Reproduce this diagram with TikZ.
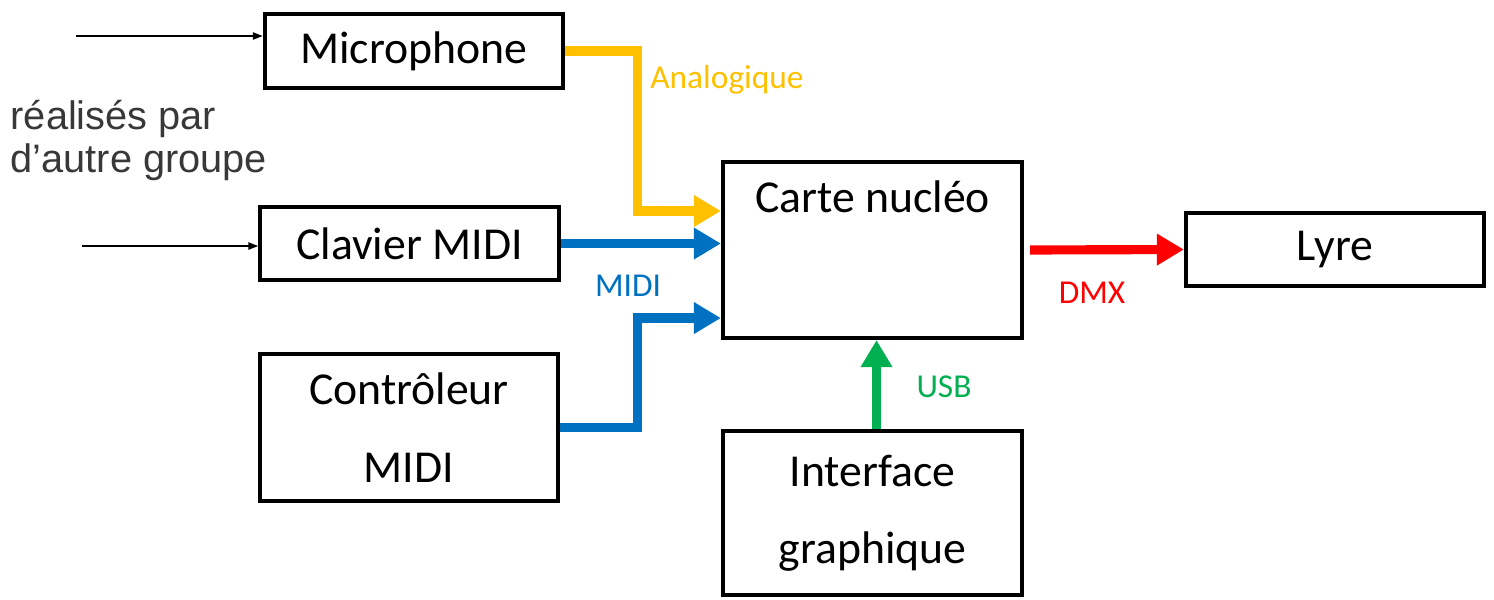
\documentclass[tikz,border=0pt]{standalone}
\usepackage{fontspec}
\setmainfont{Carlito}
\newfontfamily\notefont{Liberation Sans}
\usetikzlibrary{arrows.meta,calc}
\definecolor{analog}{HTML}{FFC000}
\definecolor{midi}{HTML}{0070C0}
\definecolor{dmx}{HTML}{FF0000}
\definecolor{usb}{HTML}{00B050}
\tikzset{
	box/.style={draw, line width=1.15pt, minimum width=2.98cm, align=center,
			font=\fontsize{13}{22}\selectfont},
	bus/.style={line width=2.6pt, -{Triangle[length=0.27cm,width=0.3cm]}},
	busname/.style={font=\fontsize{9.5}{11}\selectfont},
	ext/.style={line width=0.6pt, -{Triangle[length=0.1cm,width=0.07cm]}}
}

\begin{document}
\begin{tikzpicture}[x=0.01cm, y=-0.01cm]
	\useasboundingbox (0,0) rectangle (1494,599);

	% Define the blocks
	\node[box, minimum height=0.74cm] (mic) at (414,51) {Microphone};
	\node[box, minimum height=0.73cm] (clav) at (409.5,243.5) {Clavier MIDI};
	\node[box, minimum height=1.47cm] (ctrl) at (409,427.5) {Contrôleur\\MIDI};
	\node[box, minimum width=2.99cm, minimum height=1.76cm,
		label={[anchor=north, inner sep=0, yshift=-0.2cm, font=\fontsize{13}{15}\selectfont]north:Carte nucléo}]
		(carte) at (872.5,250) {};
	\node[box, minimum height=0.73cm] (lyre) at (1335,249.5) {Lyre};
	\node[box, minimum width=2.99cm, minimum height=1.64cm] (iface) at (872.5,513) {Interface\\graphique};

	% Inputs from the other group
	\coordinate (micin) at (76,36);
	\coordinate (clavin) at (82,246);
	\draw[ext] (micin) -- (micin -| mic.west);
	\draw[ext] (clavin) -- (clavin -| clav.west);
	\node[font=\notefont\fontsize{11.3}{12}\selectfont, text=black!78, align=left,
		anchor=west, inner sep=0] (note) at (10,140.5) {réalisés par\\d’autre groupe};

	% Draw the links
	\draw[bus, analog] (mic.east) -- ++(72,0) |- ([yshift=0.39cm]carte.west);
	\draw[bus, midi] (clav.east) -- (clav.east -| carte.west);
	\draw[bus, midi] (ctrl.east) -- ++(77,0) |- ([yshift=-0.68cm]carte.west);
	\draw[bus, dmx, shorten <=1.7pt] (carte.east) -- (lyre.west);
	\draw[bus, usb] ([xshift=0.04cm]iface.north) -- ([xshift=0.04cm]carte.south);

	% Label the links
	\node[busname, text=analog] (analogname) at (727,80) {Analogique};
	\node[busname, text=midi] (midiname) at (628,285.5) {MIDI};
	\node[busname, text=dmx] (dmxname) at (1092,293) {DMX};
	\node[busname, text=usb] (usbname) at (944,387) {USB};
\end{tikzpicture}
\end{document}
